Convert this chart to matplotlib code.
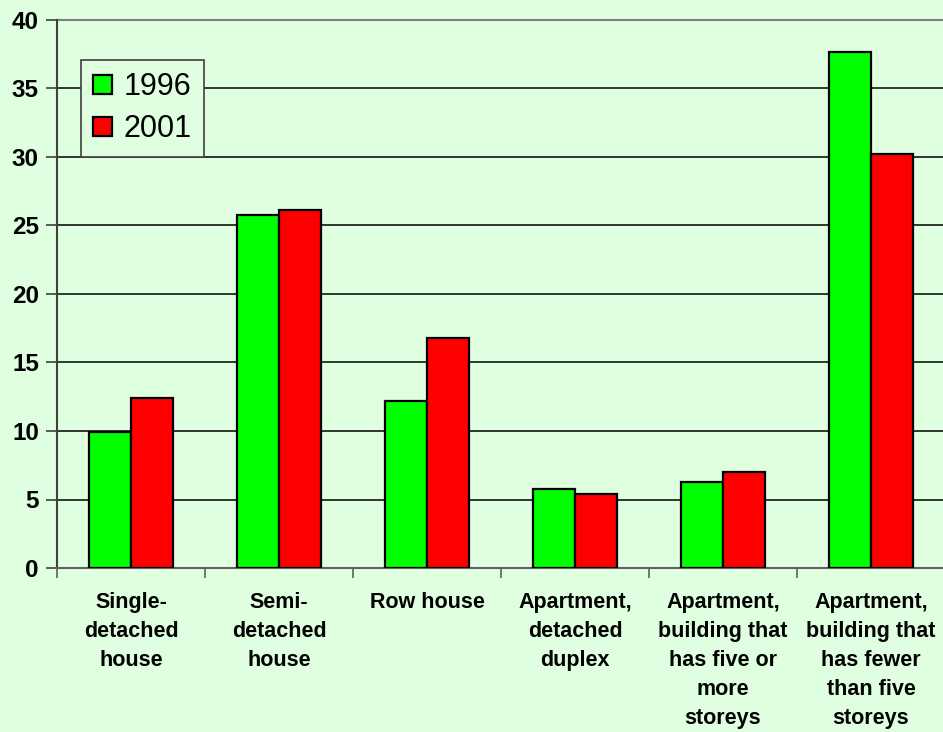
import matplotlib
matplotlib.use("Agg")
import matplotlib.pyplot as plt
import numpy as np

categories = ["Single-\ndetached\nhouse", "Semi-\ndetached\nhouse", "Row house",
              "Apartment,\ndetached\nduplex", "Apartment,\nbuilding that\nhas five or\nmore\nstoreys",
              "Apartment,\nbuilding that\nhas fewer\nthan five\nstoreys"]
series_names = ["1996", "2001"]
values_1996 = [9.9, 25.8, 12.2, 5.8, 6.3, 37.7]
values_2001 = [12.4, 26.1, 16.8, 5.4, 7.0, 30.2]
yticks = [0, 5, 10, 15, 20, 25, 30, 35, 40]

bg = "#E0FFE0"
plt.rcParams['font.family'] = ['Liberation Sans', 'DejaVu Sans']

fig = plt.figure(figsize=(9.43, 7.32), dpi=100, facecolor=bg)
ax = fig.add_axes([57/943, 164/732, 888/943, 548/732], facecolor=bg)

x = np.arange(len(categories))
w = 0.285
ax.bar(x - w/2, values_1996, w, color="#00FF00", edgecolor="black", linewidth=1.6, label=series_names[0], zorder=3)
ax.bar(x + w/2, values_2001, w, color="#FF0000", edgecolor="black", linewidth=1.6, label=series_names[1], zorder=3)

ax.set_xlim(-0.5, len(categories) - 0.5)
ax.set_ylim(0, 40)
ax.set_yticks(yticks)
ax.set_yticklabels([str(v) for v in yticks], fontsize=17.5, fontweight='bold')
ax.yaxis.grid(True, color="black", linewidth=1.1, zorder=0)
ax.set_axisbelow(True)

ax.set_xticks(np.arange(len(categories) + 1) - 0.5)
ax.set_xticklabels([])
ax.set_xticks(x, minor=True)
ax.set_xticklabels(categories, minor=True, fontsize=15.5, fontweight='bold', linespacing=1.5, va='top')
ax.tick_params(axis='x', which='minor', length=0, pad=17)
ax.tick_params(axis='x', which='major', length=7, width=1.2, color="#606060")
ax.tick_params(axis='y', length=8, width=1.2, color="#404040", pad=5)

for s in ["top", "right"]:
    ax.spines[s].set_visible(False)
ax.spines["left"].set_color("#404040")
ax.spines["left"].set_linewidth(1.5)
ax.spines["bottom"].set_color("#606060")
ax.spines["bottom"].set_linewidth(1.5)
ax.axhline(40, color="#808080", linewidth=1.5, zorder=1, clip_on=False)

leg = ax.legend(loc='upper left', bbox_to_anchor=((81-57)/888, (568-60)/548),
                borderaxespad=0, fontsize=22, frameon=True, fancybox=False,
                handlelength=0.6, handleheight=0.6, handletextpad=0.4,
                borderpad=0.4, labelspacing=0.4)
leg.get_frame().set_facecolor(bg)
leg.get_frame().set_edgecolor("#404040")
leg.get_frame().set_linewidth(1.2)
leg.get_frame().set_alpha(1)

fig.savefig("out.png", dpi=100, facecolor=bg)
